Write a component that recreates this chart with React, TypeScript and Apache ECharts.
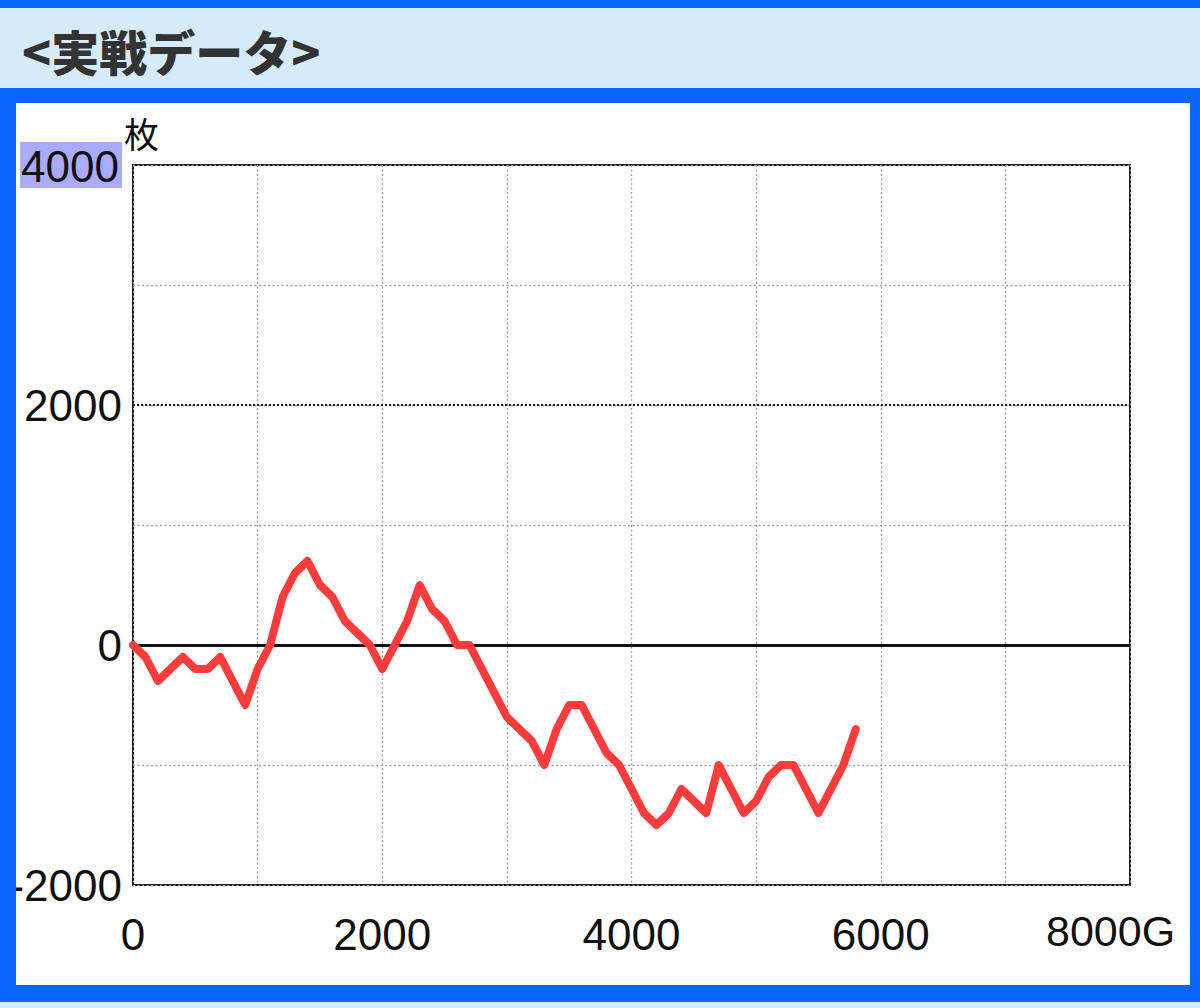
import React, { useEffect, useRef } from "react";
import * as echarts from "echarts";

const games = [
  0, 100, 200, 300, 400, 500, 600, 700, 800, 900,
  1000, 1100, 1200, 1300, 1400, 1500, 1600, 1700, 1800, 1900,
  2000, 2100, 2200, 2300, 2400, 2500, 2600, 2700, 2800, 2900,
  3000, 3100, 3200, 3300, 3400, 3500, 3600, 3700, 3800, 3900,
  4000, 4100, 4200, 4300, 4400, 4500, 4600, 4700, 4800, 4900,
  5000, 5100, 5200, 5300, 5400, 5500, 5600, 5700, 5800,
];
const medals = [
  0, -100, -300, -200, -100, -200, -200, -100, -300, -500,
  -200, 0, 400, 600, 700, 500, 400, 200, 100, 0,
  -200, 0, 200, 500, 300, 200, 0, 0, -200, -400,
  -600, -700, -800, -1000, -700, -500, -500, -700, -900, -1000,
  -1200, -1400, -1500, -1400, -1200, -1300, -1400, -1000, -1200, -1400,
  -1300, -1100, -1000, -1000, -1200, -1400, -1200, -1000, -700,
];
const xTickLabels = ["0", "2000", "4000", "6000"];
const lastXLabel = "8000G";
const yUnit = "枚";
const title = "<実戦データ>";

const BLUE = "#0866ff";
const LIGHT = "#d5ebfa";
const NUM_FONT = "'Liberation Sans', Arial, sans-serif";

export default function App() {
  const ref = useRef<HTMLDivElement>(null);

  useEffect(() => {
    if (!ref.current) return;
    const chart = echarts.init(ref.current, undefined, { renderer: "svg" });
    const data = games.map((g, i) => [g, medals[i]]);
    chart.setOption({
      animation: false,
      backgroundColor: "transparent",
      grid: {
        left: 133,
        top: 165,
        right: 70,
        bottom: 123,
        show: true,
        borderColor: "#111",
        borderWidth: 2,
        backgroundColor: "transparent",
      },
      xAxis: {
        type: "value",
        min: 0,
        max: 8000,
        interval: 1000,
        axisLine: { show: false },
        axisTick: { show: false },
        axisLabel: {
          margin: 27,
          fontSize: 44,
          color: "#111",
          fontFamily: NUM_FONT,
          formatter: (v: number) => {
            const s = String(v);
            return xTickLabels.includes(s) ? s : "";
          },
        },
        splitLine: {
          show: true,
          lineStyle: { color: "#a0a0a0", width: 1.3, type: [2, 2.5] },
        },
      },
      yAxis: {
        type: "value",
        min: -2000,
        max: 4000,
        interval: 1000,
        axisLine: { show: false },
        axisTick: { show: false },
        axisLabel: {
          margin: 11,
          fontSize: 44,
          color: "#111",
          fontFamily: NUM_FONT,
          formatter: (v: number) => {
            if (v === 4000) return "{hl|4000}";
            if (v % 2000 === 0) return String(v);
            return "";
          },
          rich: {
            hl: {
              backgroundColor: "#aaaaff",
              fontSize: 44,
              color: "#111",
              fontFamily: NUM_FONT,
              padding: [2, 3, 0, 1],
            },
          },
        },
        splitLine: {
          show: true,
          lineStyle: { color: "#a0a0a0", width: 1.3, type: [2, 2.5] },
        },
      },
      series: [
        {
          type: "line",
          data,
          symbol: "none",
          lineStyle: { color: "#ff3b3b", width: 8, join: "round", cap: "round" },
          z: 5,
          markLine: {
            silent: true,
            symbol: "none",
            label: { show: false },
            data: [
              { yAxis: 0, lineStyle: { color: "#111", width: 3, type: "solid" } },
              { yAxis: 2000, lineStyle: { color: "#222", width: 2, type: [2, 2] } },
            ],
          },
        },
      ],
      graphic: [
        {
          type: "rect",
          z: 100,
          shape: { x: 0, y: 88, width: 16, height: 914 },
          style: { fill: BLUE },
        },
        {
          type: "text",
          z: 100,
          x: 22,
          y: 50,
          style: {
            text: title,
            fill: "#333",
            font: "900 48px 'Noto Sans CJK JP', sans-serif",
            verticalAlign: "middle",
            align: "left",
          },
        },
        {
          type: "text",
          z: 100,
          x: 124,
          y: 132,
          style: {
            text: yUnit,
            fill: "#111",
            font: "35px 'Noto Sans CJK JP', sans-serif",
            verticalAlign: "middle",
            align: "left",
          },
        },
        {
          type: "text",
          z: 100,
          x: 1046,
          y: 931,
          style: {
            text: lastXLabel,
            fill: "#111",
            font: "43px 'Liberation Sans', Arial, sans-serif",
            verticalAlign: "middle",
            align: "left",
          },
        },
      ],
    });
    return () => chart.dispose();
  }, []);

  return (
    <div
      style={{
        position: "fixed",
        left: 0,
        top: 0,
        width: 1200,
        height: 1008,
        background: LIGHT,
        overflow: "hidden",
      }}
    >
      <div style={{ position: "absolute", left: 0, top: 0, width: 1200, height: 8, background: BLUE }} />
      <div style={{ position: "absolute", left: 0, top: 88, width: 1200, height: 914, background: BLUE }} />
      <div style={{ position: "absolute", left: 16, top: 103, width: 1174, height: 882, background: "#fff" }} />
      <div ref={ref} style={{ position: "absolute", left: 0, top: 0, width: 1200, height: 1008 }} />
    </div>
  );
}
